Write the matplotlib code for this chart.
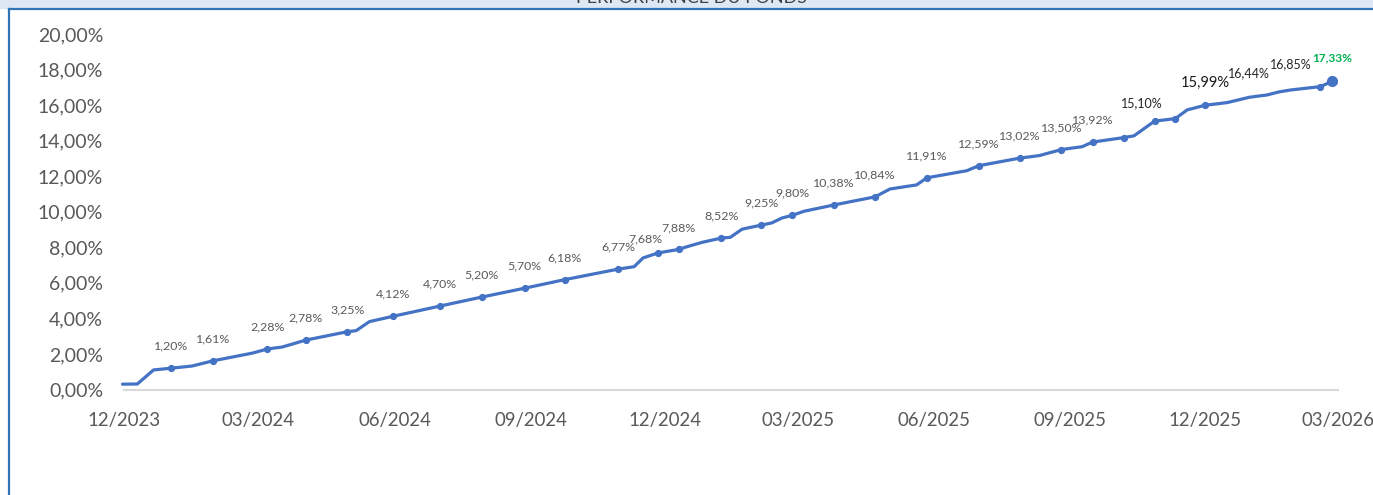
import matplotlib
matplotlib.use("Agg")
import matplotlib.pyplot as plt
import matplotlib.dates as mdates
import pandas as pd

# performance series (date, cumulative %)
dates = [
    "2023-11-30", "2023-12-10", "2023-12-21", "2024-01-02", "2024-01-16", "2024-01-30",
    "2024-02-26", "2024-03-07", "2024-03-17", "2024-04-02", "2024-04-30", "2024-05-06",
    "2024-05-15", "2024-05-31", "2024-07-02", "2024-07-30", "2024-08-28", "2024-09-24",
    "2024-10-30", "2024-11-10", "2024-11-16", "2024-11-26", "2024-12-10", "2024-12-16",
    "2024-12-26", "2025-01-08", "2025-01-14", "2025-01-22", "2025-02-04", "2025-02-11",
    "2025-02-18", "2025-02-25", "2025-03-05", "2025-03-25", "2025-04-22", "2025-05-02",
    "2025-05-20", "2025-05-27", "2025-06-23", "2025-07-01", "2025-07-29", "2025-08-11",
    "2025-08-26", "2025-09-09", "2025-09-16", "2025-10-07", "2025-10-14", "2025-10-28",
    "2025-11-11", "2025-11-19", "2025-12-01", "2025-12-16", "2025-12-31", "2026-01-12",
    "2026-01-20", "2026-01-28", "2026-02-17", "2026-02-25",
]
values = [
    0.30, 0.31, 1.10, 1.20, 1.32, 1.61,
    2.05, 2.28, 2.39, 2.78, 3.25, 3.31,
    3.82, 4.12, 4.70, 5.20, 5.70, 6.18,
    6.77, 6.91, 7.40, 7.68, 7.88, 8.04,
    8.28, 8.52, 8.56, 9.02, 9.25, 9.37,
    9.65, 9.80, 10.03, 10.38, 10.84, 11.28,
    11.51, 11.91, 12.31, 12.59, 13.02, 13.16,
    13.50, 13.66, 13.92, 14.17, 14.27, 15.10,
    15.24, 15.73, 15.99, 16.14, 16.44, 16.57,
    16.74, 16.85, 17.04, 17.33,
]

# points that carry a marker
marker_dates = [
    "2024-01-02", "2024-01-30", "2024-03-07", "2024-04-02", "2024-04-30", "2024-05-31",
    "2024-07-02", "2024-07-30", "2024-08-28", "2024-09-24", "2024-10-30", "2024-11-26",
    "2024-12-10", "2025-01-08", "2025-02-04", "2025-02-25", "2025-03-25", "2025-04-22",
    "2025-05-27", "2025-07-01", "2025-07-29", "2025-08-26", "2025-09-16", "2025-10-07",
    "2025-10-28", "2025-11-11", "2025-12-01", "2026-02-17",
]

# labelled points
label_dates = [
    "2024-01-02", "2024-01-30", "2024-03-07", "2024-04-02", "2024-04-30", "2024-05-31",
    "2024-07-02", "2024-07-30", "2024-08-28", "2024-09-24", "2024-10-30", "2024-11-26",
    "2024-12-10", "2025-01-08", "2025-02-04", "2025-02-25", "2025-03-25", "2025-04-22",
    "2025-05-27", "2025-07-01", "2025-07-29", "2025-08-26", "2025-09-16", "2025-10-28",
    "2025-12-01", "2025-12-31", "2026-01-28", "2026-02-25",
]

df = pd.DataFrame({"date": pd.to_datetime(dates), "perf": values})
lookup = dict(zip(df["date"], df["perf"]))


def fr_pct(v):
    return f"{v:.2f}".replace(".", ",") + "%"


W, H = 1373, 495
fig = plt.figure(figsize=(W / 100, H / 100), dpi=100)
plt.rcParams["font.family"] = ["Lato", "DejaVu Sans"]

# plot area in pixels
left, right, bottom, top = 124, 1338, 389.5, 34
ax = fig.add_axes([left / W, 1 - bottom / H, (right - left) / W, (bottom - top) / H])

ax.plot(df["date"], df["perf"], color="#4472C4", lw=2.3, solid_joinstyle="round",
        solid_capstyle="round", clip_on=False, zorder=3)

md = pd.to_datetime(marker_dates)
ax.plot(md, [lookup[d] for d in md], "o", color="#4472C4", ms=4.2, clip_on=False, zorder=4)
last = df.iloc[-1]
ax.plot([last["date"]], [last["perf"]], "o", color="#4472C4", ms=7, clip_on=False, zorder=4)

# data labels
for d in pd.to_datetime(label_dates):
    v = lookup[d]
    dx, dy = 0, 22
    color, size, weight = "#595959", 8.9, "normal"
    if abs(v - 7.68) < 1e-6:
        dx, dy = -12, 14
    elif abs(v - 15.10) < 1e-6:
        dx, dy, color, size = -13, 18, "#262626", 9.0
    elif abs(v - 15.99) < 1e-6:
        color, size = "#1a1a1a", 10.6
    elif abs(v - 16.44) < 1e-6:
        dy, color, size = 24, "#262626", 9.0
    elif abs(v - 16.85) < 1e-6:
        dy, color, size = 26, "#262626", 9.0
    elif abs(v - 17.33) < 1e-6:
        dy, color, size, weight = 24, "#00B050", 8.6, "bold"
    ax.annotate(fr_pct(v), (d, v), xytext=(dx, dy), textcoords="offset pixels",
                ha="center", va="center", fontsize=size, color=color, fontweight=weight)

ax.set_xlim(pd.Timestamp("2023-12-01"), pd.Timestamp("2026-03-01"))
ax.set_ylim(0, 20)
ax.set_yticks(range(0, 21, 2))
ax.yaxis.set_major_formatter(plt.FuncFormatter(lambda v, p: fr_pct(v)))
ax.xaxis.set_major_locator(mdates.MonthLocator(bymonth=[3, 6, 9, 12]))
ax.xaxis.set_major_formatter(mdates.DateFormatter("%m/%Y"))

for s in ["top", "right", "left"]:
    ax.spines[s].set_visible(False)
ax.spines["bottom"].set_color("#d9d9d9")
ax.spines["bottom"].set_linewidth(1.5)
ax.tick_params(length=0, labelcolor="#595959")
ax.tick_params(axis="x", pad=16, labelsize=13.4)
ax.tick_params(axis="y", pad=15, labelsize=14)
ax.set_facecolor("none")

# header strip, cut-off title and frame borders
fig.patches.append(plt.Rectangle((0, 1 - 8 / H), 1, 8 / H, transform=fig.transFigure,
                                 color="#dde8f4", zorder=0))
fig.text(691 / W, 1 - 3 / H, "PERFORMANCE DU FONDS", ha="center", va="baseline",
         fontsize=13, color="#404040")
fig.add_artist(plt.Line2D([9 / W, 1], [1 - 8.5 / H, 1 - 8.5 / H], color="#2e75b6", lw=1.6))
fig.add_artist(plt.Line2D([9 / W, 9 / W], [0, 1 - 8.5 / H], color="#2e75b6", lw=1.6))

fig.savefig("out.png", dpi=100)
